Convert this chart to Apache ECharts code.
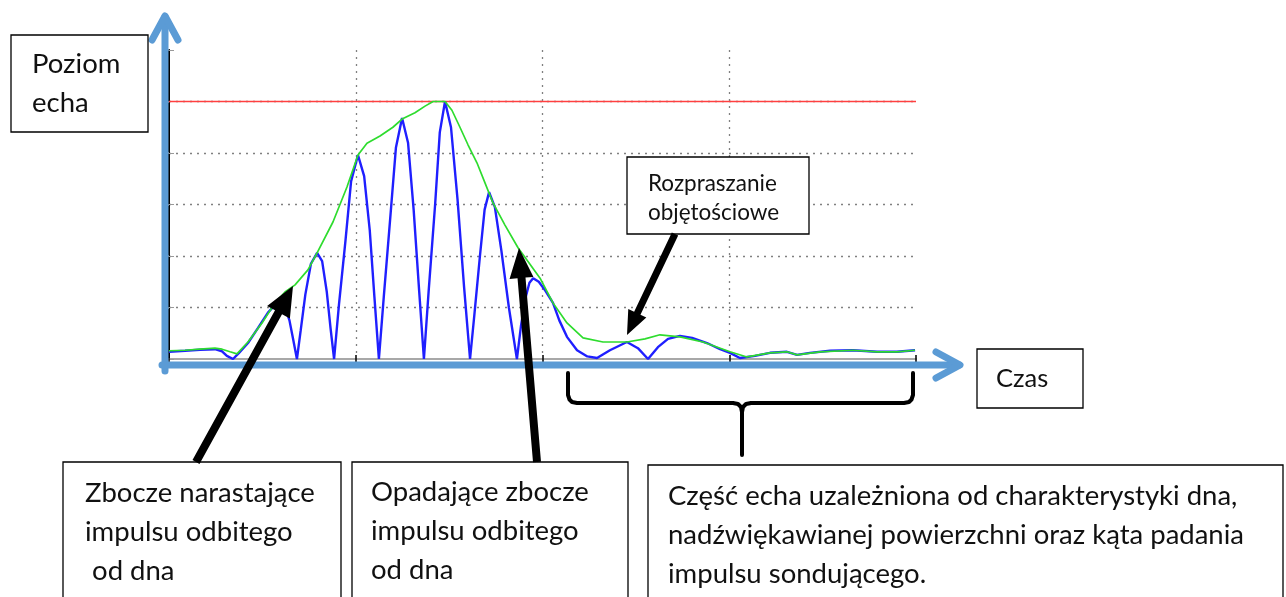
<!DOCTYPE html>
<html>
<head>
<meta charset="utf-8">
<script src="https://cdn.jsdelivr.net/npm/echarts@6/dist/echarts.min.js"></script>
<style>
  html, body { margin: 0; padding: 0; background: #fff; }
  #echoChart { width: 1286px; height: 597px; }
</style>
</head>
<body>
<div id="echoChart"></div>
<script>
// obwiednia echa (zielona)
const envelopeTime = [0, 8.6, 16.6, 24.6, 28.4, 32.7, 36.4, 42.3, 49.8, 56.8, 62.1, 67.5, 74.4, 79.3, 87.8, 95.3,
  101.2, 106.0, 113.0, 119.9, 124.8, 131.7, 137.1, 141.4, 147.8, 151.5, 155.8, 160.1, 164.9, 169.2, 173.5,
  179.9, 186.9, 193.3, 198.7, 205.6, 213.1, 221.7, 232.4, 245.2, 254.9, 262.9, 273.6, 285.9, 300.4, 309.5,
  321.8, 330.9, 336.3, 348.6, 366.3, 379.1, 389.8, 399.5];
const envelopeLevel = [0.16, 0.17, 0.19, 0.21, 0.19, 0.14, 0.10, 0.33, 0.70, 1.09, 1.30, 1.44, 1.73, 2.06, 2.66, 3.34,
  3.96, 4.19, 4.33, 4.50, 4.66, 4.78, 4.91, 5.0, 5.0, 4.83, 4.50, 4.16, 3.81, 3.42, 3.03,
  2.60, 2.16, 1.84, 1.57, 1.09, 0.70, 0.41, 0.33, 0.33, 0.39, 0.47, 0.43, 0.33, 0.14, 0.04,
  0.12, 0.14, 0.08, 0.14, 0.17, 0.14, 0.14, 0.17];

// sygnal echa (niebieski)
const signalTime = [0, 8.6, 16.6, 24.6, 28.4, 31, 34.3, 37.5, 42.3, 47.6, 53, 57, 59.4, 62, 64.5, 66.5, 68.5,
  70.5, 73, 76, 79.3, 82, 84.5, 86.5, 88.4,
  91, 94.5, 97.5, 101.2, 104.5, 107.5, 110, 112.4,
  115, 118.5, 121.5, 124.8, 128, 131, 134, 136.5,
  139, 142.5, 145, 147.8, 151, 154.5, 158, 161.2,
  163.5, 166.5, 169, 171.4, 174.5, 178, 182, 186.3,
  188.5, 191, 193, 195, 198, 201.5, 205.6, 209, 213.1, 218.5, 224, 229.2,
  236.1, 245.2, 251.1, 256.5,
  261.8, 267.2, 273.6, 280.1, 288.1, 295.1, 300.4, 305.7,
  313.8, 321.8, 330.9, 336.3, 343.2, 354, 366.3, 379.1, 389.8, 399.5];
const signalLevel = [0.14, 0.16, 0.18, 0.19, 0.15, 0.06, 0, 0.12, 0.31, 0.6, 0.9, 1.06, 1.1, 1.02, 0.75, 0.38, 0,
  0.55, 1.25, 1.85, 2.06, 1.9, 1.3, 0.6, 0,
  1.05, 2.3, 3.45, 3.96, 3.55, 2.5, 1.2, 0,
  1.2, 2.75, 4.1, 4.68, 4.2, 2.9, 1.3, 0,
  1.3, 3.0, 4.4, 5.0, 4.5, 3.1, 1.4, 0,
  0.85, 2.0, 2.9, 3.24, 2.95, 2.1, 1.0, 0,
  0.65, 1.2, 1.48, 1.57, 1.5, 1.33, 1.09, 0.75, 0.43, 0.17, 0.05, 0.02,
  0.17, 0.33, 0.21, 0,
  0.23, 0.39, 0.45, 0.41, 0.31, 0.19, 0.12, 0.02,
  0.06, 0.12, 0.14, 0.08, 0.12, 0.16, 0.17, 0.14, 0.14, 0.17];

// poziom progowy (czerwona linia)
const thresholdTime = [0, 400];
const thresholdLevel = [5, 5];

const FONT = "Lato, 'Noto Sans', sans-serif";

// strzalka jako wielokat
function arrowPoints(x1, y1, x2, y2, w, hl, hw) {
  const dx = x2 - x1, dy = y2 - y1, L = Math.hypot(dx, dy);
  const ux = dx / L, uy = dy / L, px = -uy, py = ux;
  const bx = x2 - ux * hl, by = y2 - uy * hl;
  return [
    [x1 + px * w / 2, y1 + py * w / 2],
    [bx + px * w / 2, by + py * w / 2],
    [bx + px * hw / 2, by + py * hw / 2],
    [x2, y2],
    [bx - px * hw / 2, by - py * hw / 2],
    [bx - px * w / 2, by - py * w / 2],
    [x1 - px * w / 2, y1 - py * w / 2],
  ];
}

function box(x, y, w, h) {
  return {
    type: "rect",
    shape: { x: x, y: y, width: w, height: h },
    style: { fill: "#fff", stroke: "#000", lineWidth: 1.3 },
    z: 100,
  };
}

function label(text, x, y, size) {
  return {
    type: "text",
    x: x,
    y: y,
    style: {
      text: text,
      font: size + "px " + FONT,
      fill: "#111",
      verticalAlign: "middle",
    },
    z: 101,
  };
}

function blackArrow(x1, y1, x2, y2, w, hl, hw) {
  return {
    type: "polygon",
    shape: { points: arrowPoints(x1, y1, x2, y2, w, hl, hw) },
    style: { fill: "#000" },
    z: 102,
  };
}

function stroke(points, color, width) {
  return {
    type: "polyline",
    shape: { points: points },
    style: { stroke: color, lineWidth: width, lineCap: "round", lineJoin: "round", fill: null },
    z: 90,
  };
}

const dotted = { color: "#808080", width: 1.3, type: [2, 5] };

let myChart = echarts.init(document.getElementById("echoChart"));
myChart.setOption({
  animation: false,
  backgroundColor: "#fff",
  grid: { left: 169, top: 50, right: 370, bottom: 238 },
  xAxis: [
    {
      type: "value",
      min: 0,
      max: 400,
      interval: 100,
      axisLine: { lineStyle: { color: "#a8a8a8", width: 2 } },
      axisTick: { show: true, inside: true, length: 4, lineStyle: { color: "#000", width: 1.5 } },
      axisLabel: { show: false },
      splitLine: { show: true, showMinLine: false, showMaxLine: false, lineStyle: dotted },
    },
    {
      type: "value",
      position: "top",
      min: 0,
      max: 400,
      interval: 100,
      axisLine: { show: false },
      axisTick: { show: true, inside: true, length: 4, lineStyle: { color: "#000", width: 1.5 } },
      axisLabel: { show: false },
      splitLine: { show: false },
    },
  ],
  yAxis: [
    {
      type: "value",
      min: 0,
      max: 6,
      interval: 1,
      axisLine: { show: true, lineStyle: { color: "#000", width: 1.5 } },
      axisTick: { show: true, inside: true, length: 5, lineStyle: { color: "#999" } },
      axisLabel: { show: false },
      splitLine: { show: true, showMinLine: false, showMaxLine: false, lineStyle: dotted },
    },
    {
      type: "value",
      position: "right",
      min: 0,
      max: 6,
      interval: 1,
      axisLine: { show: true, lineStyle: { color: "#000", width: 2 } },
      axisTick: { show: true, inside: true, length: 6, lineStyle: { color: "#999", width: 1.5 } },
      axisLabel: { show: false },
      splitLine: { show: false },
    },
  ],
  series: [
    {
      type: "line",
      name: "prog",
      data: thresholdTime.map((t, i) => [t, thresholdLevel[i]]),
      symbol: "none",
      silent: true,
      lineStyle: { color: "#ff4040", width: 1.3 },
      z: 2,
    },
    {
      type: "line",
      name: "sygnal",
      data: signalTime.map((t, i) => [t, signalLevel[i]]),
      symbol: "none",
      lineStyle: { color: "#1f1fff", width: 2.4 },
      z: 3,
    },
    {
      type: "line",
      name: "obwiednia",
      data: envelopeTime.map((t, i) => [t, envelopeLevel[i]]),
      symbol: "none",
      lineStyle: { color: "#2edc2e", width: 1.7 },
      z: 4,
    },
  ],
  graphic: [
    // osie (niebieskie strzalki)
    stroke([[165, 371], [165, 17]], "#5b9bd5", 7),
    stroke([[152, 40], [165, 16], [178, 40]], "#5b9bd5", 7),
    stroke([[162, 365], [959, 365]], "#5b9bd5", 7),
    stroke([[936, 352], [960, 365], [936, 378]], "#5b9bd5", 7),
    // klamra
    stroke([[568, 373], [568, 395], [569.5, 399.5], [572, 402], [577, 403], [733, 403], [738, 404],
      [741, 407], [742, 412], [742, 455]], "#000", 4),
    stroke([[742, 412], [743, 407], [746, 404], [751, 403], [904, 403], [909, 402], [911.5, 399.5],
      [913, 395], [913, 373]], "#000", 4),
    // ramki z opisami
    box(11, 35, 137, 97),
    label("Poziom", 32, 64, 27.5),
    label("echa", 32, 103, 27.5),
    box(977, 349, 106, 59),
    label("Czas", 996, 379, 25.5),
    box(627, 157, 182, 77),
    label("Rozpraszanie", 648, 184, 22.5),
    label("objętościowe", 648, 213, 22.5),
    box(63, 462, 278, 150),
    label("Zbocze narastające", 85, 493, 27.5),
    label("impulsu odbitego", 85, 532, 27.5),
    label(" od dna", 85, 571, 27.5),
    box(352, 462, 276, 150),
    label("Opadające zbocze", 371, 492, 27.5),
    label("impulsu odbitego", 371, 531, 27.5),
    label("od dna", 371, 570, 27.5),
    box(648, 465, 635, 150),
    label("Część echa uzależniona od charakterystyki dna,", 668, 496, 27.5),
    label("nadźwiękawianej powierzchni oraz kąta padania", 668, 535, 27.5),
    label("impulsu sondującego.", 668, 574, 27.5),
    // strzalki wskazujace
    blackArrow(196, 462, 293, 286, 8, 30, 26),
    blackArrow(537, 462, 519, 248, 8, 30, 24),
    blackArrow(675, 234, 627, 335, 7, 24, 20),
  ],
});
</script>
</body>
</html>
